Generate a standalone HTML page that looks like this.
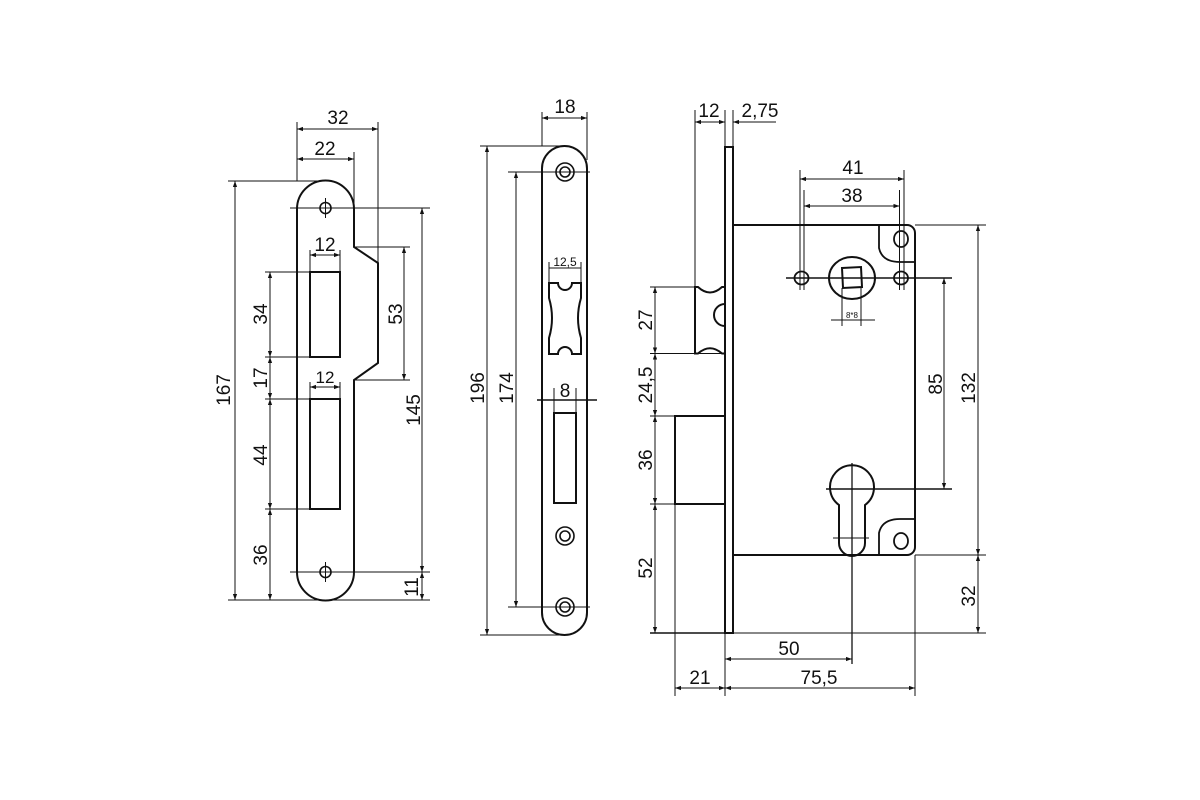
<!DOCTYPE html>
<html><head><meta charset="utf-8"><style>
html,body{margin:0;padding:0;background:#fff}
svg{display:block}
text{font-family:"Liberation Sans",Arial,sans-serif;font-size:19px;fill:#111}
</style></head><body>
<svg width="1200" height="800" viewBox="0 0 1200 800" xmlns="http://www.w3.org/2000/svg">
<defs>
<marker id="a" viewBox="0 0 10 10" refX="10" refY="5" markerWidth="8" markerHeight="6" orient="auto-start-reverse" markerUnits="userSpaceOnUse"><path d="M0,1.5 L10,5 L0,8.5 Z" fill="#111"/></marker>
</defs>
<rect width="1200" height="800" fill="#fff"/>
<g stroke="#111" fill="none">
<!-- ===== PART 1 : strike plate ===== -->
<path stroke-width="2" d="M297,209 A28.5,28.5 0 0 1 354,209 L354,247 L378,263 L378,363 L354,380 L354,572 A28.5,28.5 0 0 1 297,572 Z"/>
<rect stroke-width="2" x="310" y="272" width="30" height="85"/>
<rect stroke-width="2" x="310" y="399" width="30" height="110"/>
<circle stroke-width="1.6" cx="325.5" cy="208" r="5.5"/>
<circle stroke-width="1.6" cx="325.5" cy="572" r="5.5"/>
<g stroke-width="1">
<line x1="325.5" y1="198" x2="325.5" y2="218"/><line x1="325.5" y1="562" x2="325.5" y2="582"/>
<!-- ext lines -->
<line x1="297" y1="122" x2="297" y2="181"/>
<line x1="378" y1="122" x2="378" y2="263"/>
<line x1="354" y1="152" x2="354" y2="209"/>
<line x1="228" y1="181" x2="325" y2="181"/>
<line x1="228" y1="600" x2="430" y2="600"/>
<line x1="290" y1="208" x2="430" y2="208"/>
<line x1="290" y1="572" x2="430" y2="572"/>
<line x1="265" y1="272" x2="310" y2="272"/>
<line x1="265" y1="357" x2="310" y2="357"/>
<line x1="265" y1="399" x2="310" y2="399"/>
<line x1="265" y1="509" x2="310" y2="509"/>
<line x1="354" y1="247" x2="410" y2="247"/>
<line x1="354" y1="380" x2="410" y2="380"/>
<line x1="310" y1="250" x2="310" y2="272"/><line x1="340" y1="250" x2="340" y2="272"/>
<line x1="310" y1="382" x2="310" y2="399"/><line x1="340" y1="382" x2="340" y2="399"/>
<!-- dims -->
<line x1="297" y1="129" x2="378" y2="129" marker-start="url(#a)" marker-end="url(#a)"/>
<line x1="297" y1="159" x2="354" y2="159" marker-start="url(#a)" marker-end="url(#a)"/>
<line x1="310" y1="255" x2="340" y2="255" marker-start="url(#a)" marker-end="url(#a)"/>
<line x1="310" y1="387" x2="340" y2="387" marker-start="url(#a)" marker-end="url(#a)"/>
<line x1="235" y1="181" x2="235" y2="600" marker-start="url(#a)" marker-end="url(#a)"/>
<line x1="270" y1="272" x2="270" y2="357" marker-start="url(#a)" marker-end="url(#a)"/>
<line x1="270" y1="357" x2="270" y2="399" marker-start="url(#a)" marker-end="url(#a)"/>
<line x1="270" y1="399" x2="270" y2="509" marker-start="url(#a)" marker-end="url(#a)"/>
<line x1="270" y1="509" x2="270" y2="600" marker-start="url(#a)" marker-end="url(#a)"/>
<line x1="404" y1="247" x2="404" y2="380" marker-start="url(#a)" marker-end="url(#a)"/>
<line x1="422" y1="208" x2="422" y2="572" marker-start="url(#a)" marker-end="url(#a)"/>
<line x1="422" y1="572" x2="422" y2="600" marker-start="url(#a)" marker-end="url(#a)"/>
</g>

<!-- ===== PART 2 : faceplate front ===== -->
<rect stroke-width="2" x="542" y="146" width="45" height="489" rx="22.5" ry="22.5"/>
<path stroke-width="2" d="M549,283 L558,283 A7,7 0 0 0 572,283 L581,283 L581,298 Q575,318 581,338 L581,354 L572,354 A7,7 0 0 0 558,354 L549,354 L549,338 Q555,318 549,298 Z"/>
<rect stroke-width="2" x="554" y="413" width="22" height="90"/>
<g stroke-width="1.6">
<circle cx="565" cy="172" r="9"/><circle cx="565" cy="172" r="5"/>
<circle cx="565" cy="536" r="9"/><circle cx="565" cy="536" r="5"/>
<circle cx="565" cy="607" r="9"/><circle cx="565" cy="607" r="5"/>
</g>
<g stroke-width="1">
<line x1="542" y1="112" x2="542" y2="146"/><line x1="587" y1="112" x2="587" y2="160"/>
<line x1="542" y1="118" x2="587" y2="118" marker-start="url(#a)" marker-end="url(#a)"/>
<line x1="480" y1="146" x2="565" y2="146"/><line x1="480" y1="635" x2="565" y2="635"/>
<line x1="487" y1="146" x2="487" y2="635" marker-start="url(#a)" marker-end="url(#a)"/>
<line x1="508" y1="172" x2="590" y2="172"/><line x1="508" y1="607" x2="590" y2="607"/>
<line x1="516" y1="172" x2="516" y2="607" marker-start="url(#a)" marker-end="url(#a)"/>
<line x1="549" y1="262" x2="549" y2="283"/><line x1="581" y1="262" x2="581" y2="283"/>
<line x1="549" y1="268" x2="581" y2="268"/>
<line x1="554" y1="388" x2="554" y2="413"/><line x1="576" y1="388" x2="576" y2="413"/>
</g>
<line stroke-width="1.6" x1="537" y1="400" x2="597" y2="400"/>

<!-- ===== PART 3 : lock body ===== -->
<rect stroke-width="2" x="725" y="147" width="8" height="486"/>
<path stroke-width="2" d="M733,225 L907,225 A8,8 0 0 1 915,233 L915,547 A8,8 0 0 1 907,555 L733,555"/>
<path stroke-width="2" d="M695,287 L698,287 Q710,298 722,287 L725,287 L725,304 A11,11 0 0 0 725,326 L725,353.5 L722,353.5 Q710,343 698,353.5 L695,353.5 Z"/>
<path stroke-width="2" d="M725,416 L675,416 L675,504 L725,504"/>
<path stroke-width="1.8" d="M879,225 L879,248 Q882,262 900,262 L915,262"/>
<path stroke-width="1.8" d="M879,555 L879,533 Q882,519 900,519 L915,519"/>
<ellipse stroke-width="1.8" cx="901" cy="239" rx="7" ry="8"/>
<ellipse stroke-width="1.8" cx="901" cy="541" rx="7" ry="8"/>
<ellipse stroke-width="1.8" cx="801.5" cy="278" rx="7" ry="6.5"/>
<ellipse stroke-width="1.8" cx="901" cy="278" rx="7" ry="6.5"/>
<ellipse stroke-width="2" cx="852" cy="278" rx="23" ry="21"/>
<path stroke-width="2" d="M842,268 L861,267 L862,287 L843,288 Z"/>
<path stroke-width="2" d="M839,505 A22,22 0 1 1 865,505 L865,543 A13,13 0 0 1 839,543 Z"/>
<g stroke-width="1">
<!-- top dims -->
<line x1="695" y1="110" x2="695" y2="287"/><line x1="725" y1="110" x2="725" y2="147"/><line x1="733" y1="110" x2="733" y2="147"/>
<line x1="695" y1="122" x2="725" y2="122" marker-start="url(#a)" marker-end="url(#a)"/>
<line x1="733" y1="122" x2="776" y2="122" marker-start="url(#a)"/>
<line x1="800" y1="170" x2="800" y2="290"/><line x1="804" y1="190" x2="804" y2="290"/>
<line x1="899.5" y1="190" x2="899.5" y2="290"/><line x1="904" y1="170" x2="904" y2="290"/>
<line x1="800" y1="179" x2="904" y2="179" marker-start="url(#a)" marker-end="url(#a)"/>
<line x1="804" y1="206" x2="899.5" y2="206" marker-start="url(#a)" marker-end="url(#a)"/>
<line x1="786" y1="278" x2="952" y2="278" stroke-width="1.5"/>
<line x1="842" y1="288" x2="842" y2="326"/><line x1="861" y1="288" x2="861" y2="326"/>
<line x1="831" y1="320" x2="875" y2="320"/>
<!-- cylinder center lines -->
<line x1="826" y1="489" x2="952" y2="489" stroke-width="1.5"/>
<line x1="833" y1="538" x2="869" y2="538"/>
<line x1="852" y1="463" x2="852" y2="664" stroke-width="1.3"/>
<!-- right dims -->
<line x1="944" y1="278" x2="944" y2="489" marker-start="url(#a)" marker-end="url(#a)"/>
<line x1="915" y1="225" x2="986" y2="225"/><line x1="915" y1="555" x2="986" y2="555"/>
<line x1="733" y1="633" x2="986" y2="633"/>
<line x1="978" y1="225" x2="978" y2="555" marker-start="url(#a)" marker-end="url(#a)"/>
<line x1="978" y1="555" x2="978" y2="633" marker-start="url(#a)" marker-end="url(#a)"/>
<!-- left dims -->
<line x1="650" y1="287" x2="695" y2="287"/>
<line x1="650" y1="353.5" x2="725" y2="353.5"/>
<line x1="650" y1="416" x2="675" y2="416"/>
<line x1="650" y1="504" x2="675" y2="504"/>
<line x1="650" y1="633" x2="725" y2="633" stroke-width="1.5"/>
<line x1="655" y1="287" x2="655" y2="353.5" marker-start="url(#a)" marker-end="url(#a)"/>
<line x1="655" y1="353.5" x2="655" y2="416" marker-start="url(#a)" marker-end="url(#a)"/>
<line x1="655" y1="416" x2="655" y2="504" marker-start="url(#a)" marker-end="url(#a)"/>
<line x1="655" y1="504" x2="655" y2="633" marker-start="url(#a)" marker-end="url(#a)"/>
<!-- bottom dims -->
<line x1="675" y1="504" x2="675" y2="696"/>
<line x1="725" y1="633" x2="725" y2="696"/>
<line x1="915" y1="555" x2="915" y2="696"/>
<line x1="725" y1="659" x2="852" y2="659" marker-start="url(#a)" marker-end="url(#a)"/>
<line x1="675" y1="688" x2="725" y2="688" marker-start="url(#a)" marker-end="url(#a)"/>
<line x1="725" y1="688" x2="915" y2="688" marker-start="url(#a)" marker-end="url(#a)"/>
</g>
</g>

<!-- TEXT -->
<g text-anchor="middle">
<text x="338" y="124">32</text>
<text x="325" y="155">22</text>
<text x="325" y="251">12</text>
<text x="325" y="383" style="font-size:17px">12</text>
<text transform="translate(230,390) rotate(-90)">167</text>
<text transform="translate(267,314) rotate(-90)">34</text>
<text transform="translate(267,378) rotate(-90)">17</text>
<text transform="translate(267,455) rotate(-90)">44</text>
<text transform="translate(267,555) rotate(-90)">36</text>
<text transform="translate(402,314) rotate(-90)">53</text>
<text transform="translate(420,410) rotate(-90)">145</text>
<text transform="translate(418,587) rotate(-90)">11</text>

<text x="565" y="113">18</text>
<text transform="translate(484,388) rotate(-90)">196</text>
<text transform="translate(513,388) rotate(-90)">174</text>
<text x="565" y="266" style="font-size:12px">12,5</text>
<text x="565" y="397">8</text>

<text x="709" y="117">12</text>
<text x="760" y="117">2,75</text>
<text x="853" y="174">41</text>
<text x="852" y="202">38</text>
<text x="852" y="318" style="font-size:8px">8*8</text>
<text transform="translate(652,320) rotate(-90)">27</text>
<text transform="translate(652,385) rotate(-90)">24,5</text>
<text transform="translate(652,460) rotate(-90)">36</text>
<text transform="translate(652,568) rotate(-90)">52</text>
<text transform="translate(942,384) rotate(-90)">85</text>
<text transform="translate(975,388) rotate(-90)">132</text>
<text transform="translate(975,596) rotate(-90)">32</text>
<text x="789" y="655">50</text>
<text x="700" y="684">21</text>
<text x="819" y="684">75,5</text>
</g>
</svg>
</body></html>
